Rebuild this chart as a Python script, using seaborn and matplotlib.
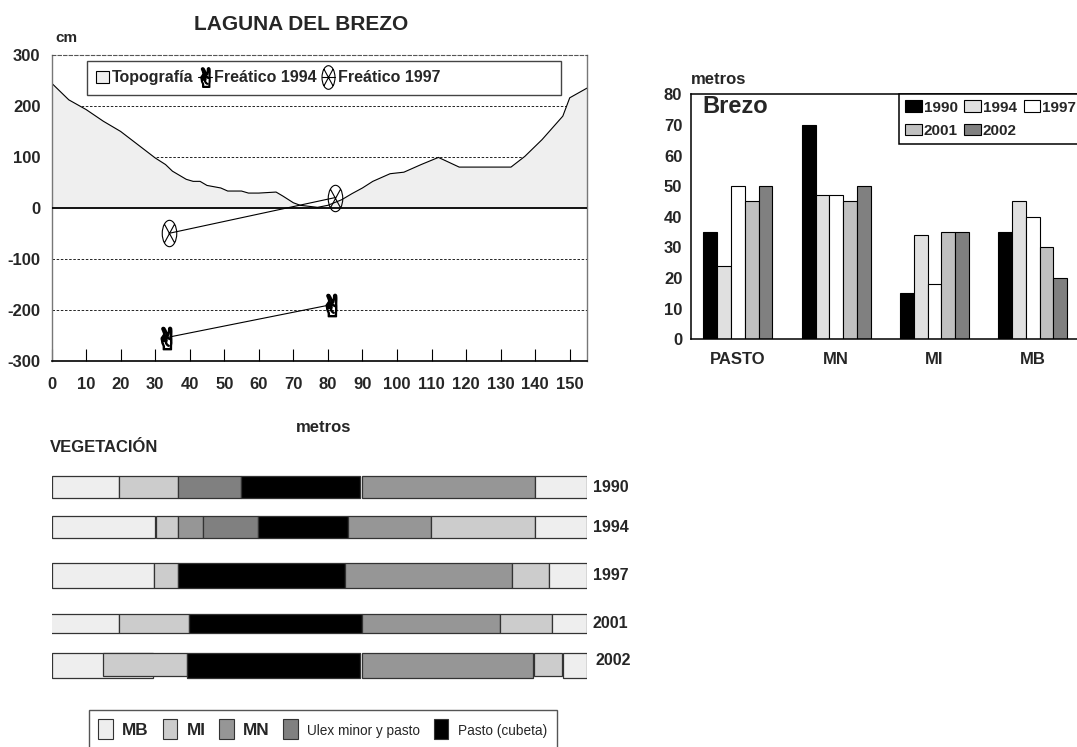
import matplotlib
matplotlib.use("Agg")
import pandas as pd
import matplotlib.pyplot as plt
import seaborn as sns
from matplotlib.path import Path
from matplotlib.transforms import Affine2D
from matplotlib.patches import Patch, Rectangle
from matplotlib.lines import Line2D

# perfil topografico (metros -> cm)
topo_x = [0, 5, 10, 15, 20, 25, 30, 33, 35, 39, 41, 43, 45, 49, 51, 55, 57, 60, 65, 67,
          70, 72, 77, 80, 84, 87, 90, 93, 98, 102, 107, 112, 118, 124, 133, 137, 142, 148, 150, 155]
topo_y = [245, 212, 193, 170, 150, 124, 98, 85, 72, 56, 52, 52, 44, 39, 33, 33, 29, 29, 31, 23,
          10, 5, 1, 5, 16, 28, 39, 52, 67, 70, 85, 99, 80, 80, 80, 101, 134, 180, 216, 235]

# nivel freatico
f1994_x = [33, 81]
f1994_y = [-255, -190]
f1997_x = [34, 82]
f1997_y = [-50, 20]

# anchura de las bandas de vegetacion (metros)
zonas = ["PASTO", "MN", "MI", "MB"]
anios = ["1990", "1994", "1997", "2001", "2002"]
m1990 = [35, 70, 15, 35]
m1994 = [24, 47, 34, 45]
m1997 = [50, 47, 18, 40]
m2001 = [45, 45, 35, 30]
m2002 = [50, 50, 35, 20]

# transecto de vegetacion: (clase, desde, hasta) en metros
veg_1990 = [("MB", 0, 19.6), ("MI", 19.6, 36.7), ("Ulex", 36.7, 54.9), ("Pasto", 54.9, 89.4),
            ("MN", 89.9, 139.9), ("MB", 139.9, 155)]
veg_1994 = [("MB", 0, 30.0), ("MI", 30.3, 36.7), ("MN", 36.7, 43.8), ("Ulex", 43.8, 59.9),
            ("Pasto", 59.9, 85.9), ("MN", 85.9, 109.9), ("MI", 109.9, 139.9), ("MB", 139.9, 155)]
veg_1997 = [("MB", 0, 29.8), ("MI", 29.8, 36.6), ("Pasto", 36.6, 85.0), ("MN", 85.0, 133.3),
            ("MI", 133.3, 143.9), ("MB", 143.9, 155)]
veg_2001 = [("MB", -0.5, 19.5), ("MI", 19.5, 39.9), ("Pasto", 39.9, 89.9), ("MN", 89.9, 129.8),
            ("MI", 129.8, 144.9), ("MB", 144.9, 155)]
veg_2002 = [("MB", 0, 29.4), ("MI", 14.9, 39.2), ("Pasto", 39.2, 89.4), ("MN", 89.9, 139.5),
            ("MI", 139.7, 147.7), ("MB", 148.1, 155)]

veg_labels = ["MB", "MI", "MN", "Ulex minor y pasto", "Pasto (cubeta)"]
veg_keys = ["MB", "MI", "MN", "Ulex", "Pasto"]

sns.set_style("white")
plt.rcParams['font.family'] = ['Liberation Sans', 'DejaVu Sans']
plt.rcParams['axes.unicode_minus'] = False

W, H = 1077, 747
fig = plt.figure(figsize=(W / 100, H / 100), dpi=100)


def px_axes(l, t, r, b):
    return fig.add_axes([l / W, 1 - b / H, (r - l) / W, (b - t) / H])


def px_text(x, y, s, **kw):
    fig.text(x / W, 1 - y / H, s, **kw)


# ---------------- perfil ----------------
ax1 = px_axes(51.5, 55, 587, 360.7)
for g in [-200, -100, 100, 200]:
    ax1.axhline(g, color='black', lw=0.6, ls=(0, (3, 2)), zorder=0)
ax1.fill_between(topo_x, topo_y, 0, color='#efefef', zorder=1)
sns.lineplot(x=topo_x, y=topo_y, color='black', lw=0.8, ax=ax1, zorder=2, sort=False)
ax1.axhline(0, color='black', lw=1.3, zorder=3)

ell = Path.unit_circle().transformed(Affine2D().scale(0.55, 1.0))
cross = Path([(-0.38, -0.7), (0.38, 0.7), (-0.38, 0.7), (0.38, -0.7)],
             [Path.MOVETO, Path.LINETO, Path.MOVETO, Path.LINETO])
mk97 = Path.make_compound_path(ell, cross)

ax1.plot(f1994_x, f1994_y, color='black', lw=0.8, marker='$✌$', markersize=16,
         markerfacecolor='black', markeredgecolor='black', markeredgewidth=1.1, zorder=4)
ax1.plot(f1997_x, f1997_y, color='black', lw=0.8, marker=mk97, markersize=19,
         markerfacecolor='none', markeredgecolor='black', markeredgewidth=0.8, zorder=4)

ax1.set_xlim(0, 155)
ax1.set_ylim(-300, 300)
ax1.set_xticks(range(0, 151, 10))
ax1.set_yticks(range(-300, 301, 100))
ax1.set_xlabel('')
ax1.set_ylabel('')
ax1.tick_params(axis='x', direction='in', length=9, width=0.8, color='black', pad=12, bottom=True)
ax1.tick_params(axis='y', length=0, pad=8)
for lab in ax1.get_xticklabels() + ax1.get_yticklabels():
    lab.set_fontweight('bold')
    lab.set_fontsize(12)
for s in ['left', 'right']:
    ax1.spines[s].set_color('#777777')
    ax1.spines[s].set_linewidth(1)
ax1.spines['bottom'].set_color('black')
ax1.spines['bottom'].set_linewidth(1.2)
ax1.spines['top'].set_color('#555555')
ax1.spines['top'].set_linestyle((0, (3, 2)))
ax1.spines['top'].set_linewidth(0.8)

ax1.add_patch(Rectangle((0.066, 0.869), 0.886, 0.111, transform=ax1.transAxes,
                        facecolor='white', edgecolor='#444444', lw=1.0, zorder=5))
h_topo = Patch(facecolor='#efefef', edgecolor='black', lw=0.8)
h94 = Line2D([], [], color='black', lw=0.8, marker='$✌$', markersize=14,
             markerfacecolor='black', markeredgecolor='black', markeredgewidth=1.0)
h97 = Line2D([], [], color='black', lw=0.8, marker=mk97, markersize=17,
             markerfacecolor='none', markeredgecolor='black', markeredgewidth=0.8)
leg1 = ax1.legend([h_topo, h94, h97], ['Topografía', 'Freático 1994', 'Freático 1997'],
                  loc='center left', bbox_to_anchor=(0.068, 0.925), ncol=3, frameon=False,
                  handlelength=0.85, handleheight=0.8, handletextpad=0.15, columnspacing=0.3,
                  borderpad=0, prop={'weight': 'bold', 'size': 11.5})
leg1.set_zorder(6)

px_text(301, 25, 'LAGUNA DEL BREZO', weight='bold', size=15, ha='center', va='center')
px_text(66, 38, 'cm', weight='bold', size=11, ha='center', va='center')
px_text(324, 428, 'metros', weight='bold', size=12, ha='center', va='center')

# ---------------- barras ----------------
df = pd.DataFrame({
    'zona': zonas * len(anios),
    'anio': [a for a in anios for _ in zonas],
    'metros': m1990 + m1994 + m1997 + m2001 + m2002,
})
bar_colors = ['#000000', '#e0e0e0', '#ffffff', '#c0c0c0', '#808080']

ax2 = px_axes(690.7, 94.3, 1082, 339.3)
sns.barplot(data=df, x='zona', y='metros', hue='anio', palette=bar_colors, width=0.7,
            edgecolor='black', linewidth=0.8, errorbar=None, legend=False, ax=ax2)
ax2.set_xlim(-0.48, 3.5)
ax2.set_ylim(0, 80)
ax2.set_yticks(range(0, 81, 10))
ax2.set_xlabel('')
ax2.set_ylabel('')
ax2.tick_params(axis='both', length=0, labelsize=12)
ax2.tick_params(axis='y', pad=6)
ax2.tick_params(axis='x', pad=9)
for lab in ax2.get_xticklabels() + ax2.get_yticklabels():
    lab.set_fontweight('bold')
for s in ['left', 'top', 'bottom']:
    ax2.spines[s].set_color('black')
    ax2.spines[s].set_linewidth(1.1)
ax2.text(0.031, 0.95, 'Brezo', transform=ax2.transAxes, weight='bold', size=17,
         ha='left', va='center')
px_text(690.7, 80, 'metros', weight='bold', size=12, ha='left', va='center')

bar_handles = [Patch(facecolor=c, edgecolor='black', lw=0.8) for c in bar_colors]
order = [0, 3, 1, 4, 2]
leg2 = ax2.legend([bar_handles[i] for i in order], [anios[i] for i in order],
                  loc='upper right', bbox_to_anchor=(1.0, 1.0), ncol=3, borderaxespad=0,
                  fancybox=False, edgecolor='black', framealpha=1,
                  handlelength=1.1, handleheight=0.8, handletextpad=0.1, columnspacing=0.45,
                  labelspacing=0.6, borderpad=0.4, prop={'weight': 'bold', 'size': 11})
leg2.get_frame().set_linewidth(1.1)

# ---------------- vegetacion ----------------
veg_colors = {'MB': '#eeeeee', 'MI': '#cccccc', 'MN': '#969696', 'Ulex': '#808080', 'Pasto': '#000000'}
rows = [veg_1990, veg_1994, veg_1997, veg_2001, veg_2002]
row_y = [487, 527, 575.5, 623.5, 665.5]
row_h = [22, 22, 25, 19, 25]
lab_dy = [0, 0, 0, 0, -5]
lab_dx = [0, 0, 0, 0, 1]

ax3 = px_axes(51.5, 470, 587, 690)
for anio, segs, y, h, dy, dx in zip(anios, rows, row_y, row_h, lab_dy, lab_dx):
    for cls, a, b in segs:
        hh, yy = h, y
        if anio == '2002' and cls == 'MI':
            hh, yy = h - 2, y - 1
        ax3.barh(yy, b - a, left=a, height=hh, color=veg_colors[cls],
                 edgecolor='#333333', linewidth=0.9)
    ax3.text(156.6 + dx, y + dy, anio, weight='bold', size=11.5, ha='left', va='center')
ax3.set_xlim(0, 155)
ax3.set_ylim(690, 470)
ax3.axis('off')

px_text(50, 447, 'VEGETACIÓN', weight='bold', size=12, ha='left', va='center')

veg_handles = [Patch(facecolor=veg_colors[k], edgecolor='#333333', lw=0.8) for k in veg_keys]
leg3 = fig.legend(veg_handles, veg_labels, loc='upper left', bbox_to_anchor=(89 / W, 1 - 710 / H),
                  ncol=5, fancybox=False, edgecolor='#555555', framealpha=1,
                  handlelength=0.85, handleheight=1.35, handletextpad=0.55, columnspacing=0.8,
                  borderpad=0.55, borderaxespad=0,
                  prop={'weight': 'bold', 'size': 12.3})
for t in leg3.get_texts()[3:]:
    t.set_fontweight('normal')
    t.set_fontsize(9.8)

fig.savefig('out.png', dpi=100)
